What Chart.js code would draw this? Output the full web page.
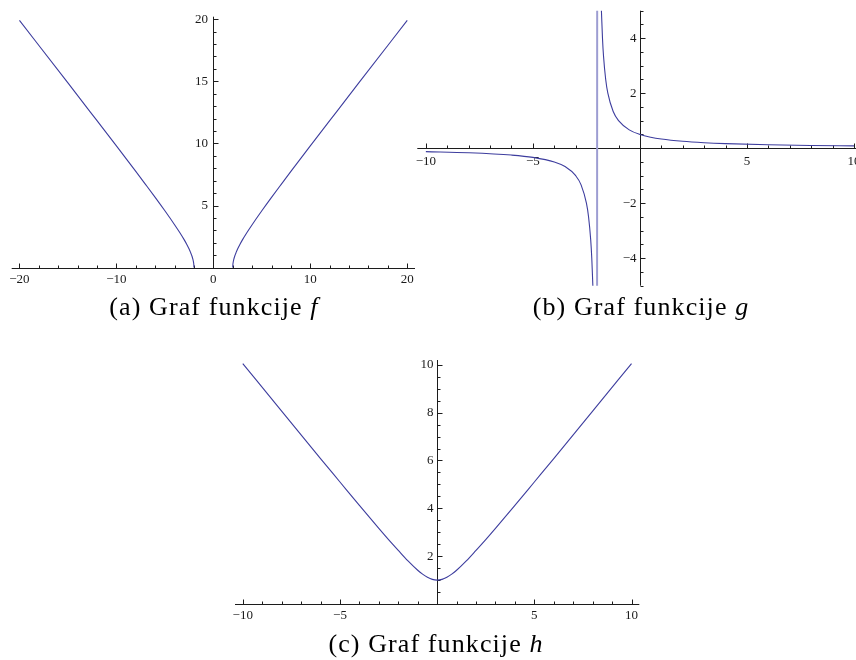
<!DOCTYPE html>
<html>
<head>
<meta charset="utf-8">
<script src="https://cdn.jsdelivr.net/npm/chart.js@4.4.0/dist/chart.umd.min.js"></script>
<style>
  html, body { margin: 0; padding: 0; background: #fff; width: 856px; height: 660px; overflow: hidden; }
  canvas { position: absolute; }
  .cap {
    position: absolute;
    font-family: "Liberation Serif", serif;
    font-size: 26px;
    line-height: 28px;
    letter-spacing: 1.1px;
    color: #000;
    white-space: nowrap;
    transform: translateX(-50%);
  }
  .cap i { font-style: italic; }
</style>
</head>
<body>
<canvas id="plotF" width="430" height="300" style="left:0;top:0"></canvas>
<canvas id="plotG" width="470" height="300" style="left:405px;top:0"></canvas>
<canvas id="plotH" width="430" height="300" style="left:225px;top:340px"></canvas>

<div class="cap" style="left:214px;top:293px">(a) Graf funkcije <i>f</i></div>
<div class="cap" style="left:641px;top:293px">(b) Graf funkcije <i>g</i></div>
<div class="cap" style="left:436px;top:630px">(c) Graf funkcije <i>h</i></div>

<script>
// values
const fLeftX  = [-20, -15, -12, -10, -8, -7, -6, -5, -4, -3.5, -3, -2.75, -2.5, -2.35, -2.2, -2.1, -2.05, -2.01, -2];
const fLeftY  = [19.90, 14.87, 11.83, 9.80, 7.75, 6.71, 5.66, 4.58, 3.46, 2.87, 2.24, 1.89, 1.50, 1.23, 0.92, 0.64, 0.45, 0.20, 0];
const fRightX = [2, 2.01, 2.05, 2.1, 2.2, 2.35, 2.5, 2.75, 3, 3.5, 4, 5, 6, 7, 8, 10, 12, 15, 20];
const fRightY = [0, 0.20, 0.45, 0.64, 0.92, 1.23, 1.50, 1.89, 2.24, 2.87, 3.46, 4.58, 5.66, 6.71, 7.75, 9.80, 11.83, 14.87, 19.90];

const gX = [-10, -8, -6, -5, -4, -3.5, -3, -2.75, -2.5, -2.4, -2.3, -2.25, -2.2, -2.1, -2.02,
            -1.98, -1.9, -1.8, -1.75, -1.7, -1.6, -1.5, -1.25, -1, -0.5, 0, 0.5, 1, 2, 3, 4, 6, 8, 10];
const gY = [-0.125, -0.167, -0.25, -0.333, -0.5, -0.667, -1, -1.333, -2, -2.5, -3.333, -4, -5, -10, -50,
            50, 10, 5, 4, 3.333, 2.5, 2, 1.333, 1, 0.667, 0.5, 0.4, 0.333, 0.25, 0.2, 0.167, 0.125, 0.1, 0.083];

const hX = [-10, -8, -6, -5, -4, -3, -2.5, -2, -1.5, -1, -0.75, -0.5, -0.25, 0, 0.25, 0.5, 0.75, 1, 1.5, 2, 2.5, 3, 4, 5, 6, 8, 10];
const hY = [10.05, 8.06, 6.08, 5.10, 4.12, 3.16, 2.69, 2.24, 1.80, 1.41, 1.25, 1.12, 1.03, 1, 1.03, 1.12, 1.25, 1.41, 1.80, 2.24, 2.69, 3.16, 4.12, 5.10, 6.08, 8.06, 10.05];

// labelled ticks
const fTicksX = [-20, -10, 0, 10, 20];
const fTicksY = [5, 10, 15, 20];
const gTicksX = [-10, -5, 5, 10];
const gTicksY = [-4, -2, 2, 4];
const hTicksX = [-10, -5, 5, 10];
const hTicksY = [2, 4, 6, 8, 10];

const CURVE = '#3d3d9e';
const JUMP = '#9d9dd2';
const AXIS = '#1c1c1c';

function pts(xs, ys) {
  return xs.map((v, i) => ({ x: v, y: ys[i] }));
}

function fmt(v) {
  return v < 0 ? '\u2212' + Math.abs(v) : String(v);
}

function stepTicks(min, max, step) {
  const out = [];
  for (let v = Math.ceil(min / step - 1e-9) * step; v <= max + 1e-9; v += step) out.push(+v.toFixed(4));
  return out;
}

// Mathematica style axes crossing at the origin, ticks pointing inward
const mathAxes = {
  id: 'mathAxes',
  beforeDatasetsDraw(chart, args, o) {
    const { ctx, chartArea: a, scales: { x, y } } = chart;
    const ax = Math.round(x.getPixelForValue(0)) + 0.5;
    const ay = Math.round(y.getPixelForValue(0)) + 0.5;
    ctx.save();
    ctx.strokeStyle = AXIS;
    ctx.lineWidth = 1;
    ctx.beginPath();
    ctx.moveTo(a.left, ay); ctx.lineTo(a.right, ay);
    ctx.moveTo(ax, a.top); ctx.lineTo(ax, a.bottom);
    stepTicks(x.min, x.max, o.xStep).forEach(v => {
      const px = Math.round(x.getPixelForValue(v)) + 0.5;
      const len = o.xMajor.includes(v) ? 5 : 3;
      ctx.moveTo(px, ay); ctx.lineTo(px, ay - len);
    });
    stepTicks(y.min, y.max, o.yStep).forEach(v => {
      const py = Math.round(y.getPixelForValue(v)) + 0.5;
      const len = o.yMajor.includes(v) ? 5 : 3;
      ctx.moveTo(ax, py); ctx.lineTo(ax + len, py);
    });
    ctx.stroke();

    ctx.fillStyle = '#1a1a1a';
    ctx.font = o.fontSize + 'px "Liberation Serif"';
    ctx.textBaseline = 'middle';
    ctx.textAlign = 'center';
    o.xMajor.forEach(v => ctx.fillText(fmt(v), x.getPixelForValue(v), ay + o.xLabelOffset));
    ctx.textAlign = 'right';
    o.yMajor.forEach(v => ctx.fillText(fmt(v), ax - o.yLabelGap, y.getPixelForValue(v)));
    ctx.restore();
  }
};

// the segment that jumps across the pole is drawn lighter and wider, as in the original
const isJump = c => c.p0.parsed.y < 0 && c.p1.parsed.y > 0 && c.p1.parsed.y - c.p0.parsed.y > 20;

function curve(data) {
  return {
    data,
    showLine: true,
    borderColor: CURVE,
    borderWidth: 1.1,
    pointRadius: 0,
    cubicInterpolationMode: 'monotone',
    fill: false,
    segment: {
      borderColor: c => isJump(c) ? JUMP : undefined,
      borderWidth: c => isJump(c) ? 2 : undefined
    }
  };
}

function makePlot(id, datasets, xRange, yRange, padding, axes) {
  return new Chart(document.getElementById(id), {
    type: 'scatter',
    data: { datasets },
    options: {
      responsive: false,
      animation: false,
      devicePixelRatio: 1,
      events: [],
      layout: { padding },
      scales: {
        x: { type: 'linear', min: xRange[0], max: xRange[1], display: false },
        y: { type: 'linear', min: yRange[0], max: yRange[1], display: false }
      },
      plugins: {
        legend: { display: false },
        tooltip: { enabled: false },
        mathAxes: axes
      }
    },
    plugins: [mathAxes]
  });
}

makePlot('plotF',
  [curve(pts(fLeftX, fLeftY)), curve(pts(fRightX, fRightY))],
  [-20.8, 20.8], [0, 20.2],
  { left: 11.7, top: 16.7, right: 15, bottom: 32.3 },
  { xMajor: fTicksX, yMajor: fTicksY, xStep: 2, yStep: 1, fontSize: 13, xLabelOffset: 11.5, yLabelGap: 5.5 });

makePlot('plotG',
  [curve(pts(gX, gY))],
  [-10.4, 10.4], [-5, 5],
  { left: 12.3, top: 10.7, right: 12.4, bottom: 14.3 },
  { xMajor: gTicksX, yMajor: gTicksY, xStep: 1, yStep: 0.5, fontSize: 13, xLabelOffset: 13, yLabelGap: 4 });

makePlot('plotH',
  [curve(pts(hX, hY))],
  [-10.4, 10.4], [0, 10.2],
  { left: 10, top: 20, right: 15.7, bottom: 36 },
  { xMajor: hTicksX, yMajor: hTicksY, xStep: 1, yStep: 0.5, fontSize: 13, xLabelOffset: 11, yLabelGap: 4 });
</script>
</body>
</html>
